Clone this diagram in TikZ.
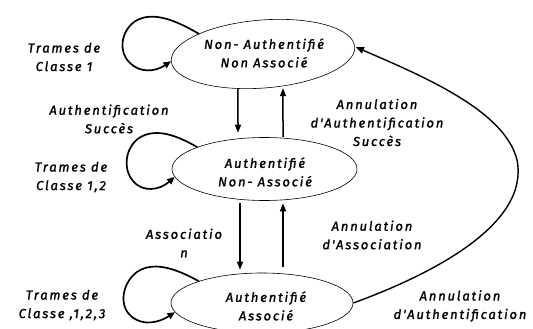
\documentclass[tikz,border=0pt]{standalone}
\usepackage{fontspec}
\setmainfont{Fira Sans}
\newfontfamily\labfont{Fira Sans}[LetterSpace=14, FakeBold=1.5]
\usetikzlibrary{shapes.geometric,arrows.meta}
\begin{document}
\begin{tikzpicture}[x=1pt,y=-1pt,
  stateshape/.style={draw, ellipse, line width=0.6pt, inner sep=0pt},
  lab/.style={font=\labfont\itshape\fontsize{13}{18.5}\selectfont, align=center, inner sep=0pt},
  varrow/.style={line width=1.5pt, -{Triangle[length=8pt,width=6pt]}},
  selfloop/.style={line width=1.7pt, line cap=round, -{Triangle[length=7.5pt,width=6.5pt]}},
  bigcurve/.style={line width=1.4pt, -{Triangle[length=8pt,width=6.5pt]}},
]
\useasboundingbox (0,0) rectangle (533,329);

% states
\node[stateshape, rotate=4.5, minimum width=184pt, minimum height=68pt] (A) at (263,54) {};
\node[stateshape, minimum width=185pt, minimum height=63pt] (B) at (264.5,169) {};
\node[stateshape, minimum width=182pt, minimum height=60pt] (C) at (262,303) {};

\node[lab] (At) at (264,53) {Non- Authentifié\\Non Associé};
\node[lab] (Bt) at (265,172) {Authentifié\\Non- Associé};
\node[lab] (Ct) at (266,306) {Authentifié\\Associé};

% labels
\node[lab] (L1) at (64,57) {Trames de\\Classe 1};
\node[lab] (L2) at (109,119) {Authentification\\Succès};
\node[lab] (L3) at (71,177) {Trames de\\Classe 1,2};
\node[lab] (L4) at (184,243) {Associatio\\n};
\node[lab] (L5) at (62,305) {Trames de\\Classe ,1,2,3};
\node[lab] (R1) at (377,122.5) {Annulation\\d'Authentification\\Succès};
\node[lab] (R2) at (372,235) {Annulation\\d'Association};
\node[lab] (R3) at (460,306) {Annulation\\d'Authentification};

% vertical transitions
\draw[varrow, shorten >=4.5pt] ([xshift=-27.7pt]A.south) -- ([xshift=-26.5pt]B.north);
\draw[varrow] ([xshift=18.5pt]B.north) -- ([xshift=17.3pt]A.south);
\draw[varrow, shorten <=2.5pt, shorten >=3pt] ([xshift=-24.5pt]B.south) -- ([xshift=-22pt]C.north);
\draw[varrow, shorten <=6pt, shorten >=2.5pt] ([xshift=21pt]C.north) -- ([xshift=18.5pt]B.south);

% self loops
\draw[selfloop] (A.158) .. controls (172,18) and (150,11) .. (134,22)
  .. controls (121,32) and (118,52) .. (130,63)
  .. controls (140,73) and (155,72) .. (A.west);
\draw[selfloop] (B.162) .. controls (178,136) and (156,127) .. (139,138)
  .. controls (126,147) and (122,168) .. (133,181)
  .. controls (143,193) and (160,190) .. (B.185);
\draw[selfloop] (C.161) .. controls (175,268) and (153,261) .. (137,272)
  .. controls (123,282) and (118,305) .. (131,316)
  .. controls (143,327) and (160,322) .. (C.186);

% big return arc
\draw[bigcurve, shorten >=1pt] (C.east) .. controls (430,275) and (530,225) .. (517,160)
  .. controls (505,110) and (420,75) .. (A.east);
\end{tikzpicture}
\end{document}
